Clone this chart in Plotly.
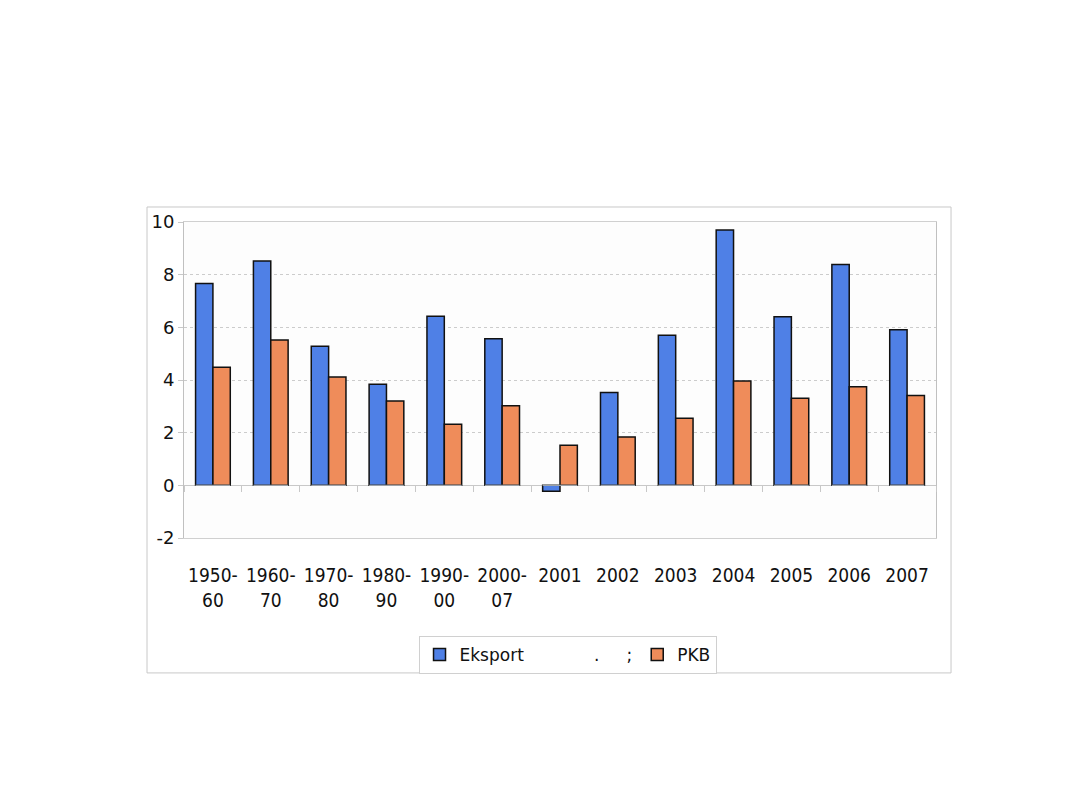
import plotly.graph_objects as go

categories = ["1950-<br>60", "1960-<br>70", "1970-<br>80", "1980-<br>90", "1990-<br>00",
              "2000-<br>07", "2001", "2002", "2003", "2004", "2005", "2006", "2007"]
eksport = [7.66, 8.52, 5.28, 3.84, 6.42, 5.57, -0.22, 3.53, 5.70, 9.70, 6.40, 8.39, 5.91]
pkb = [4.48, 5.52, 4.11, 3.20, 2.32, 3.02, 1.52, 1.84, 2.55, 3.96, 3.31, 3.74, 3.41]
y_ticks = [-2, 0, 2, 4, 6, 8, 10]
y_ticktext = ["-2", "0", "2", "4", "6", "8", "10"]

nb = "\u00a0"
name_eksport = "Eksport" + nb * 13 + "." + nb * 5 + ";"
name_pkb = "PKB"

fig = go.Figure()
fig.add_trace(go.Bar(x=categories, y=eksport, name=name_eksport,
                     marker=dict(color="#4f80e6", line=dict(color="#111111", width=1.5))))
fig.add_trace(go.Bar(x=categories, y=pkb, name=name_pkb,
                     marker=dict(color="#ef8c5a", line=dict(color="#111111", width=1.5))))
# invisible trace for boundary ticks at zero line
fig.add_trace(go.Bar(x=categories, y=[0] * len(categories), xaxis="x2",
                     showlegend=False, hoverinfo="skip", marker=dict(color="rgba(0,0,0,0)")))

fig.update_layout(
    width=1080, height=810,
    paper_bgcolor="white",
    plot_bgcolor="#fdfdfd",
    margin=dict(l=176, r=152, t=214, b=280),
    barmode="group",
    bargap=0.4,
    bargroupgap=0,
    font=dict(family="DejaVu Sans", color="#111111"),
    xaxis=dict(
        type="category",
        tickfont=dict(family="DejaVu Sans Condensed, DejaVu Sans", size=19, color="#111111"),
        ticks="", showgrid=False, zeroline=False,
        showline=True, linecolor="#d0d0d0", linewidth=1, mirror=True,
        ticklabelstandoff=20,
    ),
    xaxis2=dict(
        type="category", overlaying="x", matches="x", anchor="free", position=1/6,
        showticklabels=False, ticks="outside", tickson="boundaries", ticklen=6,
        tickcolor="#c8c8c8", showgrid=False, showline=False, zeroline=False,
    ),
    yaxis=dict(
        range=[-2, 10], tickvals=y_ticks, ticktext=y_ticktext,
        ticks="outside", ticklen=5, tickcolor="#c8c8c8",
        tickfont=dict(family="DejaVu Sans", size=18, color="#111111"),
        showgrid=True, gridcolor="#cccccc", griddash="dot", gridwidth=1,
        zeroline=True, zerolinecolor="#c8c8c8", zerolinewidth=1,
        showline=True, linecolor="#c0c0c0", linewidth=1, mirror=True,
    ),
    legend=dict(
        orientation="h", x=0.51, xanchor="center", y=-0.31, yanchor="top",
        bgcolor="white", bordercolor="#d0d0d0", borderwidth=1,
        font=dict(family="DejaVu Sans", size=17, color="#111111"),
        itemwidth=30, traceorder="normal",
    ),
    shapes=[dict(type="rect", xref="paper", yref="paper",
                 x0=-0.0492, x1=1.02, y0=-0.427, y1=1.0475,
                 line=dict(color="#c8c8c8", width=1), fillcolor="rgba(0,0,0,0)", layer="below")],
)

fig.write_html("out.html")
